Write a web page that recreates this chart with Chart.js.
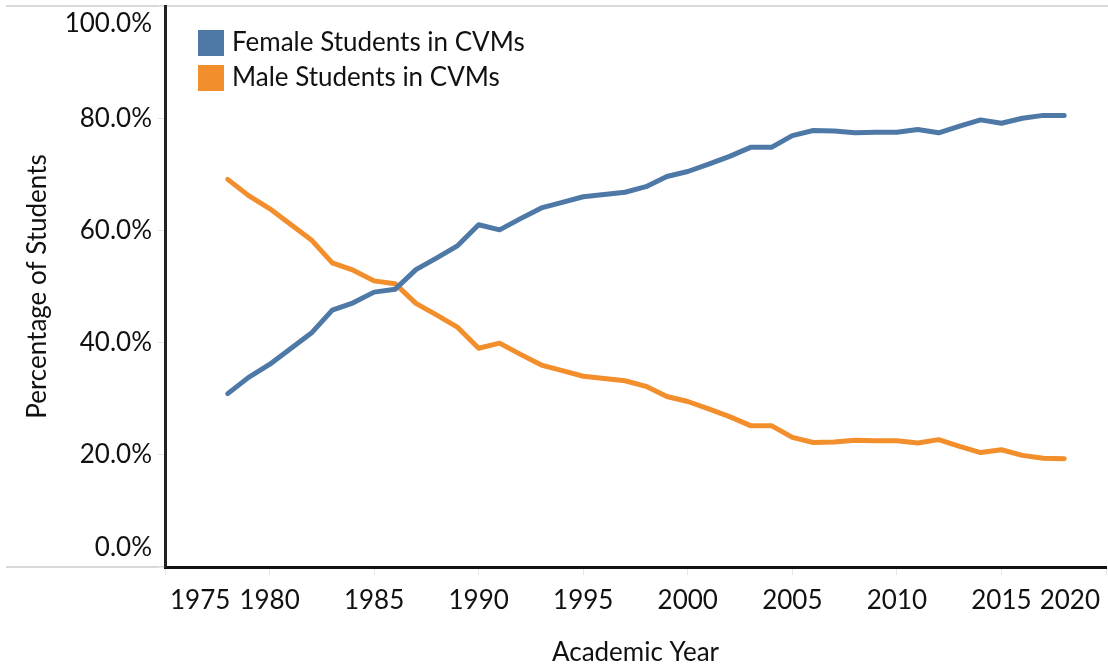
<!DOCTYPE html>
<html>
<head>
<meta charset="utf-8">
<script src="https://cdn.jsdelivr.net/npm/chart.js@4"></script>
<style>
  body { margin: 0; background: #fff; }
</style>
</head>
<body>
<canvas id="cvm-chart" width="1108" height="668"></canvas>
<script>
// academic years shown in the chart
var years = [1978,1979,1980,1981,1982,1983,1984,1985,1986,1987,1988,1989,1990,1991,1992,1993,1994,1995,1996,1997,
             1998,1999,2000,2001,2002,2003,2004,2005,2006,2007,2008,2009,2010,2011,2012,2013,2014,2015,2016,2017,2018];

// percent of students
var female = [30.9,33.8,36.1,38.9,41.7,45.8,47.1,49.0,49.5,53.0,55.1,57.3,61.0,60.1,62.1,64.0,65.0,66.0,66.4,66.8,
              67.8,69.6,70.5,71.8,73.2,74.8,74.8,76.9,77.8,77.7,77.4,77.5,77.5,78.0,77.4,78.6,79.7,79.1,80.0,80.5,80.5];
var male = [69.1,66.2,63.9,61.1,58.3,54.2,52.9,51.0,50.5,47.0,44.9,42.7,39.0,39.9,37.9,36.0,35.0,34.0,33.6,33.2,
            32.2,30.4,29.5,28.2,26.8,25.2,25.2,23.1,22.2,22.3,22.6,22.5,22.5,22.1,22.7,21.5,20.4,20.9,19.9,19.4,19.3];

var xTickLabels = ['1975','1980','1985','1990','1995','2000','2005','2010','2015','2020'];
var yTickLabels = ['0.0%','20.0%','40.0%','60.0%','80.0%','100.0%'];

var FONT = 'Lato, "Open Sans", sans-serif';
var SIZE = 26;

function toPoints(vals) {
    return vals.map(function (v, i) { return { x: years[i], y: v }; });
}

// tick labels are kept inside the plot edges, like the original
var edgeLabels = {
    id: 'edgeLabels',
    beforeDraw: function (chart) {
        var ctx = chart.ctx, a = chart.chartArea;
        ctx.save();
        ctx.strokeStyle = '#d9d9d9';
        ctx.lineWidth = 2;
        ctx.beginPath();
        ctx.moveTo(6, a.top); ctx.lineTo(chart.width, a.top);
        ctx.moveTo(6, a.bottom); ctx.lineTo(a.left, a.bottom);
        ctx.stroke();
        ctx.restore();
    },
    afterDraw: function (chart) {
        var ctx = chart.ctx, a = chart.chartArea;
        var xs = chart.scales.x, ys = chart.scales.y;
        ctx.save();
        ctx.fillStyle = '#111';
        ctx.font = SIZE + 'px ' + FONT;

        ctx.textAlign = 'right';
        ctx.textBaseline = 'middle';
        ys.ticks.forEach(function (t) {
            var py = ys.getPixelForValue(t.value);
            py = Math.min(Math.max(py, a.top + 18), a.bottom - 19);
            ctx.fillText(t.label, a.left - 13, py);
        });

        ctx.textAlign = 'center';
        xs.ticks.forEach(function (t) {
            var w = ctx.measureText(t.label).width;
            var px = xs.getPixelForValue(t.value);
            px = Math.min(Math.max(px, a.left + 5 + w / 2), a.right - 6 - w / 2);
            ctx.fillText(t.label, px, a.bottom + 34);
        });

        // legend inside the plot, top left
        chart.data.datasets.forEach(function (ds, i) {
            var top = a.top + 24 + i * 35;
            ctx.fillStyle = ds.borderColor;
            ctx.fillRect(a.left + 33, top, 26, 26);
            ctx.fillStyle = '#111';
            ctx.textAlign = 'left';
            ctx.fillText(ds.label, a.left + 67, top + 13);
        });
        ctx.restore();
    }
};

var ctx = document.getElementById('cvm-chart').getContext('2d');
var myChart = new Chart(ctx, {
    type: 'line',
    data: {
        datasets: [{
            label: 'Female Students in CVMs',
            data: toPoints(female),
            borderColor: '#4e79a7',
            borderWidth: 5,
            pointRadius: 0,
            borderCapStyle: 'round',
            borderJoinStyle: 'round',
            fill: false
        }, {
            label: 'Male Students in CVMs',
            data: toPoints(male),
            borderColor: '#f28e2b',
            borderWidth: 5,
            pointRadius: 0,
            borderCapStyle: 'round',
            borderJoinStyle: 'round',
            fill: false
        }]
    },
    options: {
        responsive: false,
        animation: false,
        layout: { padding: { left: 0, right: 2, top: 6, bottom: 0 } },
        plugins: {
            legend: { display: false },
            tooltip: { enabled: false }
        },
        scales: {
            x: {
                type: 'linear',
                min: 1975,
                max: 2020,
                afterFit: function (s) { s.height = 101; },
                ticks: {
                    stepSize: 5,
                    display: false,
                    callback: function (v, i) { return xTickLabels[i]; }
                },
                grid: { drawOnChartArea: false, drawTicks: true, tickLength: 8, color: '#e6e6e6' },
                border: { color: '#111', width: 3 },
                title: {
                    display: true,
                    text: 'Academic Year',
                    color: '#111',
                    font: { family: FONT, size: SIZE },
                    padding: { top: 0, bottom: 0 }
                }
            },
            y: {
                min: 0,
                max: 100,
                afterFit: function (s) { s.width = 165; },
                ticks: {
                    stepSize: 20,
                    display: false,
                    callback: function (v, i) { return yTickLabels[i]; }
                },
                grid: { drawOnChartArea: false, drawTicks: true, tickLength: 7, color: '#e6e6e6' },
                border: { color: '#222', width: 3 },
                title: {
                    display: true,
                    text: 'Percentage of Students',
                    color: '#111',
                    font: { family: FONT, size: SIZE },
                    padding: { top: 22, bottom: 0 }
                }
            }
        }
    },
    plugins: [edgeLabels]
});
</script>
</body>
</html>
